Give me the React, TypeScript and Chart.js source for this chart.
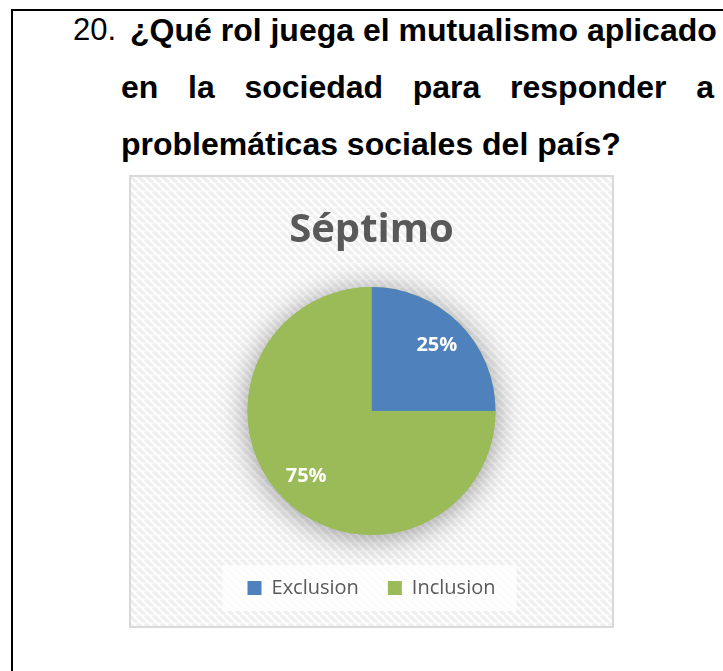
import React, { useEffect, useRef } from "react";
import { Chart, registerables } from "chart.js";

Chart.register(...registerables);

// ---- data ----
const categories: string[] = ["Exclusion", "Inclusion"];
const values: number[] = [25, 75];
const percentLabels: string[] = ["25%", "75%"];
const sliceColors: string[] = ["#4f81bd", "#9bbb59"];
const chartTitle = "Séptimo";
const questionNumber = "20.";
const questionLines: string[] = [
  "¿Qué rol juega el mutualismo aplicado",
  "en la sociedad para responder a",
  "problemáticas sociales del país?",
];

const CANVAS_W = 485;
const CANVAS_H = 453;

const backgroundPlugin = {
  id: "bgHatch",
  beforeDraw(chart: any) {
    const { ctx, width, height } = chart;
    ctx.save();
    const tile = document.createElement("canvas");
    tile.width = 8;
    tile.height = 8;
    const t = tile.getContext("2d")!;
    t.fillStyle = "#ffffff";
    t.fillRect(0, 0, 8, 8);
    t.strokeStyle = "#efefef";
    t.lineWidth = 3.5;
    for (const x0 of [-8, 0, 8]) {
      t.beginPath();
      t.moveTo(x0, 0);
      t.lineTo(x0 + 8, 8);
      t.stroke();
    }
    const pat = ctx.createPattern(tile, "repeat");
    ctx.fillStyle = pat;
    ctx.fillRect(0, 0, width, height);
    ctx.strokeStyle = "#d9d9d9";
    ctx.lineWidth = 2;
    ctx.strokeRect(1, 1, width - 2, height - 2);

    const boxes = chart.legend && chart.legend.legendHitBoxes;
    if (boxes && boxes.length) {
      const first = boxes[0];
      const last = boxes[boxes.length - 1];
      const cy = first.top + first.height / 2;
      ctx.fillStyle = "rgba(255,255,255,0.8)";
      ctx.fillRect(
        first.left - 25,
        cy - 23,
        last.left + last.width - first.left + 46,
        46
      );
    }
    ctx.restore();
  },
};

const shadowPlugin = {
  id: "pieShadow",
  beforeDatasetsDraw(chart: any) {
    const meta = chart.getDatasetMeta(0);
    if (!meta.data.length) return;
    const arc = meta.data[0];
    const { ctx } = chart;
    ctx.save();
    ctx.shadowColor = "rgba(0,0,0,0.4)";
    ctx.shadowBlur = 30;
    ctx.shadowOffsetX = 0;
    ctx.shadowOffsetY = 3;
    ctx.beginPath();
    ctx.arc(arc.x, arc.y, arc.outerRadius, 0, Math.PI * 2);
    ctx.fillStyle = sliceColors[1];
    ctx.fill();
    ctx.restore();
  },
};

const labelPlugin = {
  id: "pctLabels",
  afterDatasetsDraw(chart: any) {
    const meta = chart.getDatasetMeta(0);
    const { ctx } = chart;
    ctx.save();
    ctx.fillStyle = "#ffffff";
    ctx.font = "bold 20px 'Open Sans'";
    ctx.textAlign = "center";
    ctx.textBaseline = "middle";
    meta.data.forEach((arc: any, i: number) => {
      const mid = (arc.startAngle + arc.endAngle) / 2;
      const r = arc.outerRadius * 0.745;
      ctx.fillText(
        percentLabels[i],
        arc.x + Math.cos(mid) * r,
        arc.y + Math.sin(mid) * r
      );
    });
    ctx.restore();
  },
};

function PieChart() {
  const ref = useRef<HTMLCanvasElement>(null);
  useEffect(() => {
    if (!ref.current) return;
    const chart = new Chart(ref.current, {
      type: "pie",
      data: {
        labels: categories,
        datasets: [
          {
            data: values,
            backgroundColor: sliceColors,
            borderWidth: 0,
            radius: 124,
          } as any,
        ],
      },
      options: {
        responsive: false,
        animation: false,
        layout: { padding: { top: 0, bottom: 20, left: 0, right: 0 } },
        plugins: {
          title: {
            display: true,
            text: chartTitle,
            color: "#595959",
            font: { family: "'Open Sans'", size: 40, weight: "bold", lineHeight: 1.2 },
            padding: { top: 32, bottom: 18 },
          },
          legend: {
            position: "bottom",
            labels: {
              boxWidth: 14,
              boxHeight: 14,
              padding: 29,
              color: "#595959",
              font: { family: "'Open Sans'", size: 20 },
            },
          },
          tooltip: { enabled: false },
        },
      } as any,
      plugins: [backgroundPlugin, shadowPlugin, labelPlugin],
    });
    return () => chart.destroy();
  }, []);
  return <canvas ref={ref} width={CANVAS_W} height={CANVAS_H} style={{ display: "block" }} />;
}

export default function App() {
  const font = "'Liberation Sans', Arial, sans-serif";
  const lineStyle: React.CSSProperties = {
    position: "absolute",
    fontFamily: font,
    fontSize: 32,
    lineHeight: 1,
    fontWeight: "bold",
    color: "#000",
    whiteSpace: "nowrap",
  };
  return (
    <div
      style={{
        position: "absolute",
        left: 0,
        top: 0,
        width: 723,
        height: 671,
        overflow: "hidden",
        background: "#fff",
      }}
    >
      <div
        style={{
          position: "absolute",
          left: 11,
          top: 9,
          width: 900,
          height: 900,
          borderLeft: "2px solid #000",
          borderTop: "2px solid #000",
        }}
      />
      <div style={{ ...lineStyle, left: 73, top: 14, fontWeight: "normal", fontSize: 31 }}>
        {questionNumber}
      </div>
      <div style={{ ...lineStyle, left: 130, top: 14 }}>{questionLines[0]}</div>
      <div
        style={{
          ...lineStyle,
          left: 121,
          top: 71,
          width: 593,
          whiteSpace: "normal",
          textAlign: "justify",
          textAlignLast: "justify",
        }}
      >
        {questionLines[1]}
      </div>
      <div style={{ ...lineStyle, left: 121, top: 128 }}>{questionLines[2]}</div>
      <div style={{ position: "absolute", left: 129, top: 175 }}>
        <PieChart />
      </div>
    </div>
  );
}
